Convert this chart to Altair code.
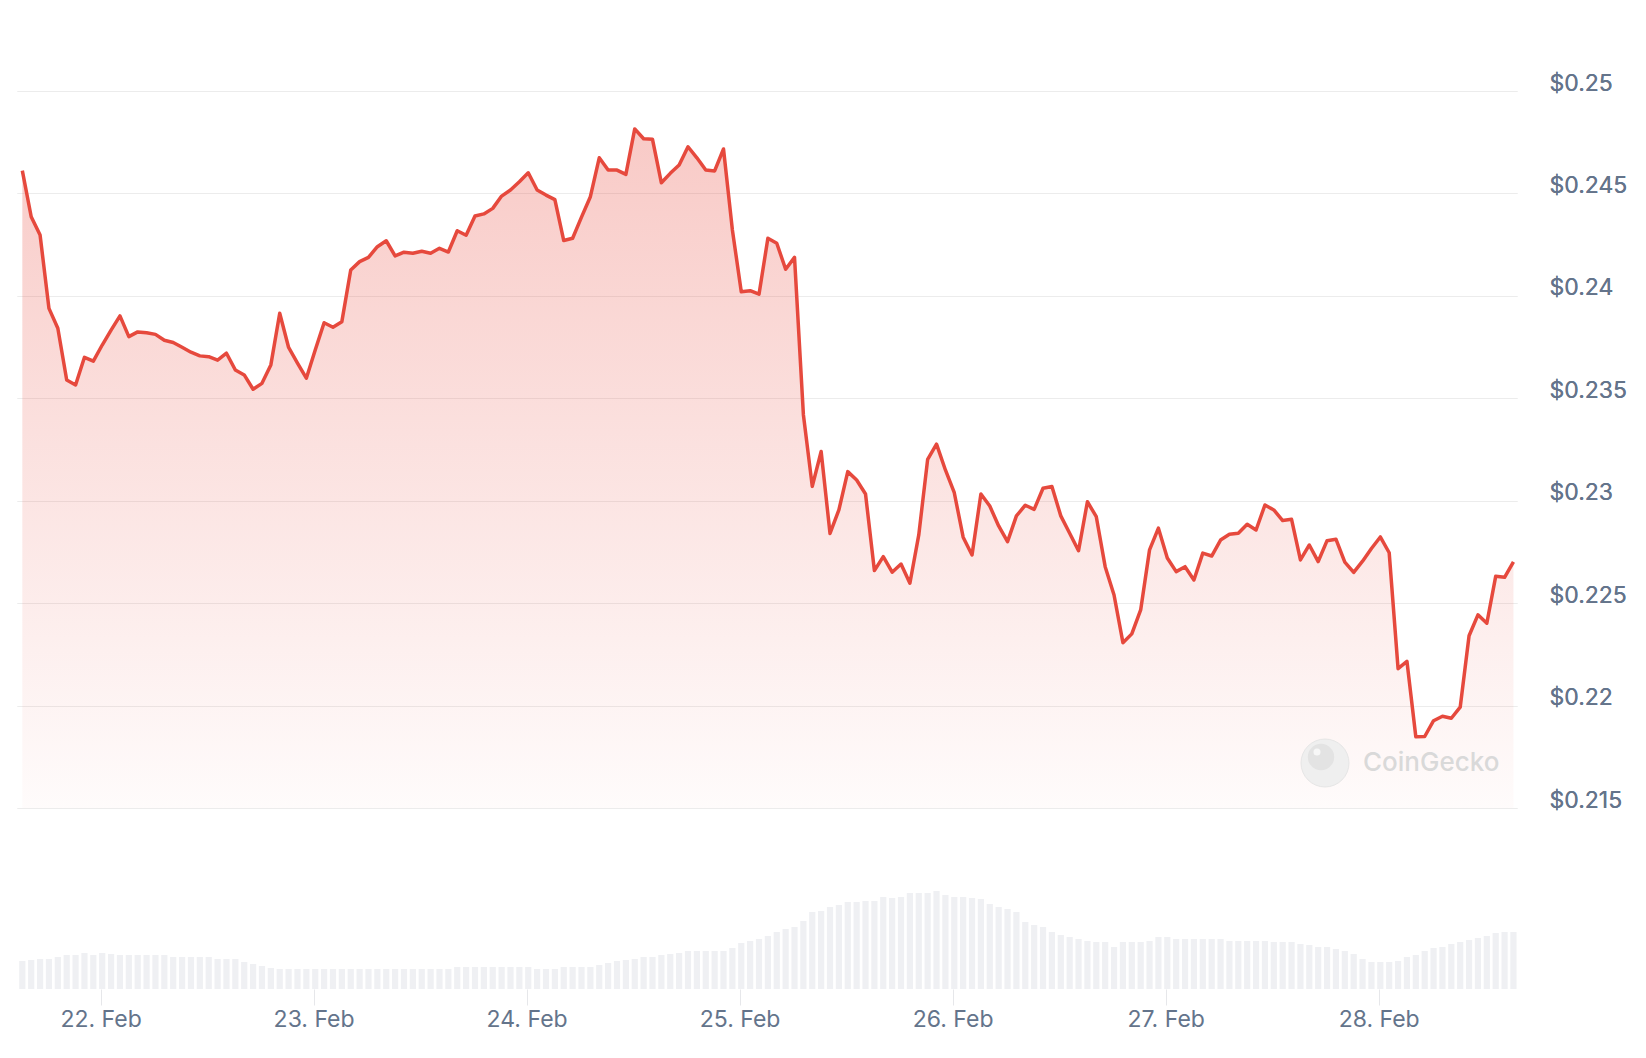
import altair as alt
import pandas as pd

# ---- data ----
START = "2024-02-21T15:11:00"          # first hourly sample
hour_index = list(range(169))          # hourly samples

price = [
    0.24611, 0.24386, 0.24297, 0.23939, 0.23842, 0.23589, 0.23565, 0.23700, 0.23681, 0.23760,
    0.23833, 0.23902, 0.23801, 0.23824, 0.23820, 0.23812, 0.23783, 0.23772, 0.23749, 0.23725,
    0.23707, 0.23703, 0.23686, 0.23720, 0.23638, 0.23614, 0.23544, 0.23573, 0.23663, 0.23915,
    0.23748, 0.23672, 0.23598, 0.23736, 0.23869, 0.23847, 0.23874, 0.24126, 0.24167, 0.24188,
    0.24240, 0.24269, 0.24195, 0.24213, 0.24208, 0.24218, 0.24208, 0.24232, 0.24214, 0.24318,
    0.24296, 0.24390, 0.24400, 0.24427, 0.24487, 0.24517, 0.24557, 0.24601, 0.24517, 0.24492,
    0.24470, 0.24270, 0.24281, 0.24384, 0.24484, 0.24674, 0.24614, 0.24614, 0.24593, 0.24815,
    0.24767, 0.24764, 0.24552, 0.24598, 0.24639, 0.24728, 0.24674, 0.24614, 0.24610, 0.24717,
    0.24322, 0.24020, 0.24025, 0.24008, 0.24281, 0.24257, 0.24130, 0.24188, 0.23420, 0.23070,
    0.23240, 0.22840, 0.22955, 0.23142, 0.23101, 0.23033, 0.22659, 0.22727, 0.22651, 0.22691,
    0.22597, 0.22833, 0.23202, 0.23276, 0.23150, 0.23039, 0.22822, 0.22735, 0.23033, 0.22974,
    0.22877, 0.22800, 0.22926, 0.22978, 0.22958, 0.23061, 0.23069, 0.22926, 0.22841, 0.22756,
    0.22995, 0.22922, 0.22678, 0.22540, 0.22307, 0.22350, 0.22467, 0.22760, 0.22866, 0.22720,
    0.22654, 0.22678, 0.22613, 0.22744, 0.22730, 0.22808, 0.22836, 0.22841, 0.22885, 0.22857,
    0.22979, 0.22955, 0.22903, 0.22909, 0.22711, 0.22784, 0.22703, 0.22805, 0.22812, 0.22700,
    0.22650, 0.22705, 0.22767, 0.22823, 0.22746, 0.22180, 0.22216, 0.21848, 0.21849, 0.21926,
    0.21948, 0.21938, 0.21992, 0.22341, 0.22443, 0.22402, 0.22631, 0.22626, 0.22702,
]

# hourly trading volume (relative units)
volume = [
    28, 29, 30, 30, 32, 34, 34, 36, 34, 36,
    35, 34, 34, 34, 34, 34, 34, 32, 32, 32,
    32, 32, 30, 30, 30, 27, 25, 23, 21, 20,
    20, 20, 20, 20, 20, 20, 20, 20, 20, 20,
    20, 20, 20, 20, 20, 20, 20, 20, 20, 22,
    22, 22, 22, 22, 22, 22, 22, 22, 20, 20,
    20, 22, 22, 22, 22, 24, 26, 28, 29, 30,
    32, 32, 34, 35, 36, 38, 38, 38, 38, 38,
    41, 46, 48, 50, 53, 57, 60, 62, 68, 77,
    78, 82, 84, 87, 87, 88, 88, 92, 91, 92,
    96, 96, 96, 98, 94, 92, 92, 91, 90, 85,
    82, 80, 77, 67, 64, 62, 57, 54, 52, 50,
    48, 47, 47, 42, 47, 47, 47, 48, 52, 52,
    50, 50, 50, 50, 50, 50, 48, 48, 48, 48,
    48, 47, 47, 47, 45, 44, 42, 42, 40, 38,
    35, 30, 27, 27, 27, 28, 32, 34, 38, 41,
    42, 45, 47, 49, 51, 53, 56, 57, 57,
]

price_ticks = [0.215, 0.22, 0.225, 0.23, 0.235, 0.24, 0.245, 0.25]
day_ticks = [22, 23, 24, 25, 26, 27, 28]

times = pd.Timestamp(START) + pd.to_timedelta(hour_index, unit="h")
df = pd.DataFrame({"time": times, "price": price, "volume": volume})

FONT = "Inter"
LABEL_COLOR = "#64748b"
LINE_COLOR = "#e6493d"

x_enc = alt.X(
    "time:T",
    scale=alt.Scale(
        domain=[
            alt.DateTime(year=2024, month=2, date=21, hours=14, minutes=35),
            alt.DateTime(year=2024, month=2, date=28, hours=15, minutes=35),
        ],
        nice=False,
        padding=0,
    ),
    axis=alt.Axis(
        values=[alt.DateTime(year=2024, month=2, date=d) for d in day_ticks],
        format="%-d. %b",
        title=None,
        domain=False,
        grid=False,
        ticks=True,
        tickSize=16,
        tickColor="#e6e7ea",
        tickWidth=1,
        labelPadding=3,
        labelFont=FONT,
        labelFontSize=23,
        labelColor=LABEL_COLOR,
        labelFlush=False,
        labelBaseline="top",
    ),
)

price_scale = alt.Scale(domain=[0.215, 0.25], range=[717, 0], zero=False, nice=False)
price_axis = alt.Axis(
    orient="right",
    values=price_ticks,
    labelExpr="'$' + format(datum.value, '.3~f')",
    title=None,
    domain=False,
    ticks=False,
    grid=True,
    gridColor="#ececec",
    gridWidth=1,
    labelPadding=32,
    labelFont=FONT,
    labelFontSize=23,
    labelColor=LABEL_COLOR,
    labelAlign="left",
    labelBaseline="alphabetic",
    labelOffset=-1,
)

bars = alt.Chart(df).mark_bar(width=6.2, color="#eff0f3").encode(
    x=x_enc,
    y=alt.Y("volume:Q", scale=alt.Scale(domain=[0, 100], range=[898, 798], zero=True, nice=False), axis=None),
)

gradient = alt.Gradient(
    gradient="linear",
    stops=[
        alt.GradientStop(color="rgba(232,72,60,0.29)", offset=0),
        alt.GradientStop(color="rgba(232,72,60,0.14)", offset=0.55),
        alt.GradientStop(color="rgba(232,72,60,0.02)", offset=1),
    ],
    x1=0, x2=0, y1=0, y2=1,
)

area = alt.Chart(df).mark_area(color=gradient, line=False).encode(
    x=x_enc,
    y=alt.Y("price:Q", scale=price_scale, axis=price_axis),
    y2=alt.datum(0.215),
)

line = alt.Chart(df).mark_line(color=LINE_COLOR, strokeWidth=3.5, strokeJoin="round").encode(
    x=x_enc,
    y=alt.Y("price:Q", scale=price_scale, axis=price_axis),
)

# watermark
wm_circle = alt.Chart(pd.DataFrame({"a": [0]})).mark_point(
    filled=True, size=2300, color="#efefef", stroke="#e6e6e6", strokeWidth=1, opacity=1
).encode(x=alt.value(1308), y=alt.value(672))
wm_head = alt.Chart(pd.DataFrame({"a": [0]})).mark_point(
    filled=True, size=700, color="#e3e3e3", opacity=1
).encode(x=alt.value(1304), y=alt.value(666))
wm_eye = alt.Chart(pd.DataFrame({"a": [0]})).mark_point(
    filled=True, size=50, color="#f7f7f7", opacity=1
).encode(x=alt.value(1300), y=alt.value(661))
wm_text = alt.Chart(pd.DataFrame({"t": ["CoinGecko"]})).mark_text(
    font=FONT, fontSize=26, fontWeight=500, color="#d9d9d9", align="left", baseline="middle"
).encode(x=alt.value(1346), y=alt.value(672), text="t:N")

chart = (
    alt.layer(bars, area, line, wm_circle, wm_head, wm_eye, wm_text)
    .resolve_scale(y="independent")
    .properties(
        width=1500,
        height=898,
        padding={"left": 9, "top": 64, "right": 10, "bottom": 10},
        background="white",
    )
    .configure_view(stroke=None)
)

chart.save("out.html", embed_options={"renderer": "svg", "actions": False})
